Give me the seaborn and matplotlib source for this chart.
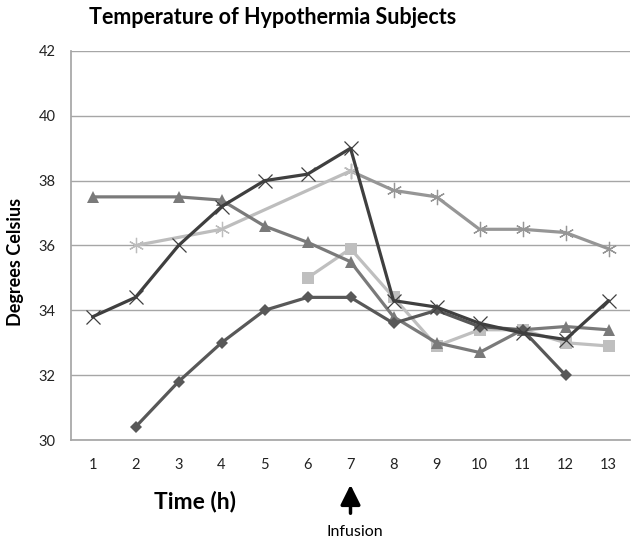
import numpy as np
import pandas as pd
import matplotlib
matplotlib.use("Agg")
import matplotlib.pyplot as plt
import seaborn as sns

hours = [1, 2, 3, 4, 5, 6, 7, 8, 9, 10, 11, 12, 13]
nan = np.nan
diamond_vals = [nan, 30.4, 31.8, 33.0, 34.0, 34.4, 34.4, 33.6, 34.0, 33.5, 33.4, 32.0, nan]
square_vals = [nan, nan, nan, nan, nan, 35.0, 35.9, 34.4, 32.9, 33.4, 33.4, 33.0, 32.9]
triangle_vals = [37.5, nan, 37.5, 37.4, 36.6, 36.1, 35.5, 33.8, 33.0, 32.7, 33.4, 33.5, 33.4]
xmark_vals = [33.8, 34.4, 36.0, 37.2, 38.0, 38.2, 39.0, 34.3, 34.1, 33.6, 33.3, 33.1, 34.3]
star_light_vals = [nan, 36.0, nan, 36.5, nan, nan, 38.3, nan, nan, nan, nan, nan, nan]
star_mid_vals = [nan, nan, nan, nan, nan, nan, 38.3, 37.7, 37.5, 36.5, 36.5, 36.4, 35.9]

y_ticks = [30, 32, 34, 36, 38, 40, 42]

sns.set_theme(style="white")
plt.rcParams['font.family'] = ['Lato', 'DejaVu Sans']

fig = plt.figure(figsize=(6.32, 5.42), dpi=100)
ax = fig.add_axes([71/632, 1-440/542, 559/632, 389/542])

series = [
    (star_mid_vals, "#969696", (6, 2, 0), 11, 0.9),
    (star_light_vals, "#BDBDBD", (6, 2, 0), 11, 0.9),
    (square_vals, "#BFBFBF", "s", 8, 0),
    (triangle_vals, "#7A7A7A", "^", 9, 0),
    (diamond_vals, "#585858", "D", 6, 0),
    (xmark_vals, "#3F3F3F", "x", 10, 0.9),
]
for vals, col, mk, ms, mew in series:
    df = pd.DataFrame({"h": hours, "v": vals}).dropna()
    kw = dict(marker=mk, markersize=ms, markeredgecolor=col, markerfacecolor=col,
              markeredgewidth=mew)
    sns.lineplot(data=df, x="h", y="v", color=col, linewidth=2.3, ax=ax, **kw)

ax.set_xlim(0.5, 13.5)
ax.set_ylim(30, 42)
ax.set_yticks(y_ticks)
ax.set_xticks(hours)
ax.set_xticklabels([str(h) for h in hours])
ax.yaxis.grid(True, color="#A6A6A6", linewidth=1)
ax.xaxis.grid(False)
for s in ["top", "right"]:
    ax.spines[s].set_visible(False)
ax.spines["left"].set_color("#A6A6A6")
ax.spines["bottom"].set_color("#A6A6A6")
ax.tick_params(axis="both", length=0, labelsize=10.5, colors="#222222")
ax.tick_params(axis="x", pad=13)
ax.tick_params(axis="y", pad=11)
ax.set_xlabel("")
ax.set_ylabel("")

fig.text(273/632, 1-17/542, "Temperature of Hypothermia Subjects", ha="center", va="center",
         fontsize=15.5, fontweight="bold", color="black")
fig.text(15/632, 1-262/542, "Degrees Celsius", ha="center", va="center", rotation=90,
         fontsize=13, fontweight="bold", color="black")
fig.text(195/632, 1-502/542, "Time (h)", ha="center", va="center",
         fontsize=16.5, fontweight="bold", color="black")
fig.text(355/632, 1-532/542, "Infusion", ha="center", va="center", fontsize=11.5, color="black")
ax.annotate("", xy=(7, 30 - 42/32.4), xytext=(7, 30 - 76/32.4),
            xycoords="data", textcoords="data", annotation_clip=False,
            arrowprops=dict(arrowstyle="-|>,head_length=1.0,head_width=0.5", color="black", lw=2.5))

fig.savefig("out.png", dpi=100)
